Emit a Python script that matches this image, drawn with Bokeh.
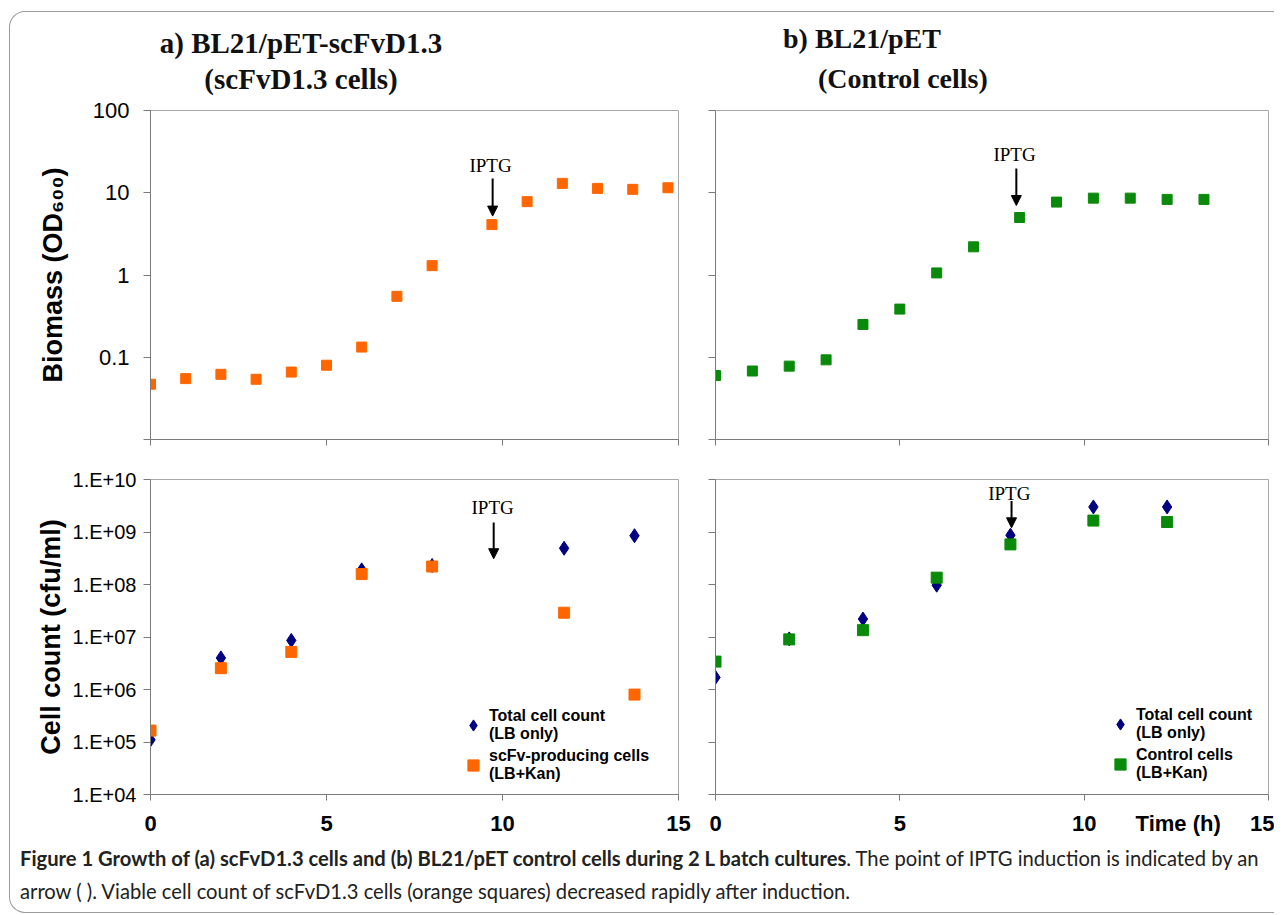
from bokeh.plotting import figure
from bokeh.models import (Range1d, FixedTicker, Label, Arrow, NormalHead,
                          Legend, LegendItem, Div, LinearAxis)
from bokeh.layouts import row, column
from bokeh.embed import file_html
from bokeh.resources import INLINE

# ---------------- data ----------------
x_ticks = [0, 5, 10, 15]
x_labels = ["0", "5", "10", "15"]

od_ticks = [0.01, 0.1, 1, 10, 100]
od_labels = ["", "0.1", "1", "10", "100"]

cfu_ticks = [10**4, 10**5, 10**6, 10**7, 10**8, 10**9, 10**10]
cfu_labels = ["1.E+04", "1.E+05", "1.E+06", "1.E+07", "1.E+08", "1.E+09", "1.E+10"]

# a) top: biomass of scFvD1.3 cells
biomass_a_time = [0, 1, 2, 3, 4, 5, 6, 7, 8, 9.7, 10.7, 11.7, 12.7, 13.7, 14.7]
biomass_a_od = [0.047, 0.055, 0.062, 0.054, 0.066, 0.080, 0.133, 0.55, 1.30,
                4.1, 7.8, 13.0, 11.3, 11.0, 11.5]

# b) top: biomass of control cells
biomass_b_time = [0, 1, 2, 3, 4, 5, 6, 7, 8.25, 9.25, 10.25, 11.25, 12.25, 13.25]
biomass_b_od = [0.060, 0.068, 0.078, 0.093, 0.25, 0.385, 1.06, 2.2, 5.0,
                7.7, 8.6, 8.6, 8.3, 8.3]

# a) bottom: cell counts
count_a_time = [0, 2, 4, 6, 8, 11.75, 13.75]
count_a_total = [1.1e5, 4.0e6, 8.6e6, 1.9e8, 2.3e8, 4.9e8, 8.5e8]
count_a_scfv = [1.65e5, 2.55e6, 5.2e6, 1.58e8, 2.2e8, 2.9e7, 8.0e5]

# b) bottom: cell counts
count_b_time = [0, 2, 4, 6, 8, 10.25, 12.25]
count_b_total = [1.7e6, 9.2e6, 2.2e7, 9.7e7, 8.7e8, 3.0e9, 3.0e9]
count_b_ctrl = [3.4e6, 9.0e6, 1.35e7, 1.35e8, 5.8e8, 1.65e9, 1.55e9]

time_title = "Time (h)"
TIME_TITLE_X = 12.55

# ---------------- style ----------------
SANS = "Liberation Sans"
SERIF = "Liberation Serif"
ORANGE = "#FF6600"
GREEN = "#0A8A0A"
NAVY = "#000080"
AXIS = "#7a7a7a"
OUTLINE = "#a8a8a8"


def make_fig(width, height, left, right, top, bottom, yr, yticks, ylabels,
             xlabels_shown, yfont):
    p = figure(width=width, height=height,
               min_border_left=left, min_border_right=right,
               min_border_top=top, min_border_bottom=bottom,
               x_range=Range1d(0, 15), y_range=Range1d(*yr),
               y_axis_type="log", output_backend="svg",
               toolbar_location=None, title=None)
    p.grid.visible = False
    p.outline_line_color = OUTLINE
    p.background_fill_color = "white"
    p.border_fill_color = "white"
    for ax in (p.xaxis[0], p.yaxis[0]):
        ax.axis_line_color = AXIS
        ax.major_tick_line_color = AXIS
        ax.minor_tick_line_color = None
        ax.major_tick_in = 0
        ax.major_tick_out = 7
        ax.major_label_text_color = "black"
    xa = p.xaxis[0]
    xa.ticker = FixedTicker(ticks=x_ticks)
    if xlabels_shown:
        xa.major_label_overrides = dict(zip(x_ticks, x_labels))
    else:
        xa.major_label_overrides = {t: "" for t in x_ticks}
    xa.major_label_text_font = SANS
    xa.major_label_text_font_style = "bold"
    xa.major_label_text_font_size = "22px"
    xa.major_tick_out = 6
    xa.major_label_standoff = 15
    ya = p.yaxis[0]
    ya.ticker = FixedTicker(ticks=yticks)
    ya.major_label_overrides = dict(zip(yticks, ylabels))
    ya.major_label_text_font = SANS
    ya.major_label_text_font_size = yfont
    ya.axis_label_text_font = SANS
    ya.axis_label_text_font_style = "bold"
    ya.axis_label_text_font_size = "27px"
    ya.axis_label_text_color = "black"
    return p


def iptg(p, tx, ty, ax, ay0, ay1):
    p.add_layout(Label(x=tx, y=ty, text="IPTG", text_font=SERIF,
                       text_font_size="19px", text_align="center",
                       text_baseline="middle", text_color="black"))
    p.add_layout(Arrow(end=NormalHead(size=10, fill_color="black",
                                      line_color="black"),
                       x_start=ax, y_start=ay0, x_end=ax, y_end=ay1,
                       line_color="black", line_width=2))


def legend(p, items, loc):
    lg = Legend(items=items, location=loc, border_line_color=None,
                background_fill_alpha=0, padding=0, margin=0, spacing=4,
                label_standoff=2, glyph_width=28, glyph_height=28,
                label_text_font=SANS, label_text_font_style="bold",
                label_text_font_size="16px", label_text_line_height=1.25,
                label_text_color="black")
    p.add_layout(lg)


# ---------- titles ----------
title_style = ("font-family:'Liberation Serif',serif;font-weight:bold;"
               "line-height:36px;color:#111;white-space:nowrap;")
title_a = Div(width=686, height=86, margin=0, text=(
    f'<div style="{title_style}font-size:29px;width:582px;text-align:center;'
    'padding-top:13px">a) BL21/pET-scFvD1.3<br>(scFvD1.3 cells)</div>'))
title_b = Div(width=578, height=86, margin=0, text=(
    f'<div style="{title_style}font-size:28px;padding-top:9px">'
    '<div style="padding-left:87px">b) BL21/pET</div>'
    '<div style="padding-left:122px;margin-top:4px">(Control cells)</div></div>'))

# ---------- top a ----------
fa_top = make_fig(686, 362, 140, 18, 12, 21, (0.01, 100), od_ticks, od_labels,
                  False, "22px")
fa_top.yaxis[0].axis_label = "Biomass (OD\u2086\u2080\u2080)"
fa_top.yaxis[0].major_label_standoff = 14
fa_top.yaxis[0].axis_label_standoff = 22
fa_top.scatter(biomass_a_time, biomass_a_od, marker="square", size=10,
               fill_color=ORANGE, line_color=ORANGE)
iptg(fa_top, 9.66, 21.4, 9.72, 14.9, 5.2)

# ---------- top b ----------
fb_top = make_fig(578, 362, 19, 6, 12, 21, (0.01, 100), od_ticks,
                  ["" for _ in od_ticks], False, "22px")
fb_top.scatter(biomass_b_time, biomass_b_od, marker="square", size=10,
               fill_color=GREEN, line_color=GREEN)
iptg(fb_top, 8.11, 29.2, 8.16, 19.7, 7.0)

# ---------- bottom a ----------
fa_bot = make_fig(686, 382, 140, 18, 19, 48, (1e4, 1e10), cfu_ticks, cfu_labels,
                  True, "20px")
fa_bot.yaxis[0].axis_label = "Cell count (cfu/ml)"
fa_bot.yaxis[0].major_label_standoff = 7
fa_bot.yaxis[0].axis_label_standoff = 4
ra_d = fa_bot.scatter(count_a_time, count_a_total, marker="diamond", size=14,
                      fill_color=NAVY, line_color=NAVY)
ra_s = fa_bot.scatter(count_a_time, count_a_scfv, marker="square", size=11,
                      fill_color=ORANGE, line_color=ORANGE)
iptg(fa_bot, 9.72, 2.93e9, 9.75, 1.52e9, 3.1e8)
legend(fa_bot, [LegendItem(label="Total cell count\n(LB only)", renderers=[ra_d]),
                LegendItem(label="scFv-producing cells\n(LB+Kan)", renderers=[ra_s])],
       (309, 11))

# ---------- bottom b ----------
fb_bot = make_fig(578, 382, 19, 6, 19, 48, (1e4, 1e10), cfu_ticks,
                  ["" for _ in cfu_ticks], False, "20px")
fb_bot.xaxis[0].major_label_standoff = 0
lab_ticks = x_ticks[:3] + [TIME_TITLE_X] + x_ticks[3:]
lab_text = x_labels[:3] + [time_title] + x_labels[3:]
xb2 = LinearAxis(ticker=FixedTicker(ticks=lab_ticks),
                 major_label_overrides=dict(zip(lab_ticks, lab_text)),
                 axis_line_color=None, major_tick_line_color=None,
                 minor_tick_line_color=None, major_tick_in=0, major_tick_out=0,
                 major_label_standoff=10, major_label_text_font=SANS,
                 major_label_text_font_style="bold",
                 major_label_text_font_size="22px",
                 major_label_text_color="black")
fb_bot.add_layout(xb2, "below")
rb_d = fb_bot.scatter(count_b_time, count_b_total, marker="diamond", size=14,
                      fill_color=NAVY, line_color=NAVY)
rb_s = fb_bot.scatter(count_b_time, count_b_ctrl, marker="square", size=11,
                      fill_color=GREEN, line_color=GREEN)
iptg(fb_bot, 7.97, 5.5e9, 8.03, 3.9e9, 1.2e9)
legend(fb_bot, [LegendItem(label="Total cell count\n(LB only)", renderers=[rb_d]),
                LegendItem(label="Control cells\n(LB+Kan)", renderers=[rb_s])],
       (391, 12))

# ---------- caption ----------
caption = Div(
    text=('<b>Figure 1 Growth of (a) scFvD1.3 cells and (b) BL21/pET control cells '
          'during 2 L batch cultures</b>. The point of IPTG induction is indicated by an'
          '<br>arrow ( ). Viable cell count of scFvD1.3 cells (orange squares) '
          'decreased rapidly after induction.'),
    width=1264, height=70, margin=0,
    styles={"font-family": "Lato, 'Liberation Sans', sans-serif",
            "font-size": "20.2px", "line-height": "33px", "color": "#222",
            "padding-left": "10px", "white-space": "nowrap"})

layout = column(row(title_a, title_b), row(fa_top, fb_top), row(fa_bot, fb_bot),
                caption, margin=(11, 0, 0, 9),
                styles={"border": "1px solid #9a9a9a", "border-right": "none",
                        "border-radius": "16px 0 0 16px"})

open("out.html", "w").write(file_html(layout, INLINE))
